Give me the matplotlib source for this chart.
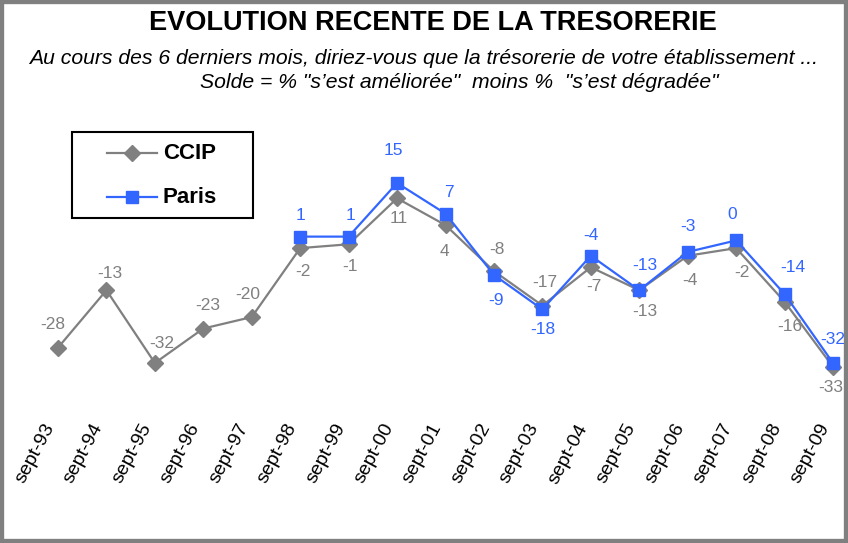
import matplotlib
matplotlib.use("Agg")
import matplotlib.pyplot as plt
from matplotlib.patches import Rectangle
from matplotlib.lines import Line2D
from matplotlib.transforms import offset_copy

plt.rcParams['font.family'] = ['Liberation Sans', 'DejaVu Sans']

categories = ['sept-93', 'sept-94', 'sept-95', 'sept-96', 'sept-97', 'sept-98', 'sept-99',
              'sept-00', 'sept-01', 'sept-02', 'sept-03', 'sept-04', 'sept-05', 'sept-06',
              'sept-07', 'sept-08', 'sept-09']
ccip = [-28, -13, -32, -23, -20, -2, -1, 11, 4, -8, -17, -7, -13, -4, -2, -16, -33]
paris_start = 5
paris = [1, 1, 15, 7, -9, -18, -4, -13, -3, 0, -14, -32]
series_names = ['CCIP', 'Paris']

# label offsets in pixels (dx, dy), dy positive = upwards
ccip_off = [(-5, 23), (3, 17), (7, 19), (4, 23), (-4, 23), (3, -23), (1, -22), (2, -20),
            (-1, -26), (3, 22), (2, 23), (3, -19), (6, -21), (2, -25), (6, -24), (5, -25), (-2, -21)]
paris_off = [(0, 21), (2, 21), (-4, 33), (3, 21), (2, -26), (0, -20), (0, 20), (6, 25),
             (0, 25), (-4, 26), (8, 27), (0, 24)]

W, H = 848, 543
fig = plt.figure(figsize=(W / 100, H / 100), dpi=100)
fig.patch.set_facecolor('white')

# axes placement in pixels
ax_l, ax_r, ax_t, ax_b = 30, 840, 130, 400
ax = fig.add_axes([ax_l / W, 1 - ax_b / H, (ax_r - ax_l) / W, (ax_b - ax_t) / H])
px_per_x = (833 - 58) / 16
ax.set_xlim(-(58 - ax_l) / px_per_x, 16 + (ax_r - 833) / px_per_x)
px_per_y = (363 - 183) / 47
ax.set_ylim(15 - (ax_b - 183) / px_per_y, 15 + (183 - ax_t) / px_per_y)

gray = '#808080'
blue = '#3366FF'
x_c = list(range(len(categories)))
x_p = list(range(paris_start, paris_start + len(paris)))

ax.plot(x_c, ccip, color=gray, lw=1.6, marker='D', ms=8.5, mec=gray, mfc=gray,
        zorder=3, clip_on=False)
ax.plot(x_p, paris, color=blue, lw=1.6, marker='s', ms=9, mec=blue, mfc=blue,
        zorder=4, clip_on=False)

for xi, v, (dx, dy) in zip(x_c, ccip, ccip_off):
    tr = offset_copy(ax.transData, fig=fig, x=dx, y=dy, units='dots')
    ax.text(xi, v, str(v), transform=tr, ha='center', va='center', color=gray, fontsize=12.5,
            clip_on=False)
for xi, v, (dx, dy) in zip(x_p, paris, paris_off):
    tr = offset_copy(ax.transData, fig=fig, x=dx, y=dy, units='dots')
    ax.text(xi, v, str(v), transform=tr, ha='center', va='center', color=blue, fontsize=12.5,
            clip_on=False)

ax.set_xticks(x_c)
ax.set_xticklabels(categories, rotation=62, ha='right', va='top', fontsize=14)
ax.tick_params(axis='x', length=0, pad=15)
ax.set_yticks([])
for s in ax.spines.values():
    s.set_visible(False)
ax.patch.set_alpha(0)

# legend (drawn in figure pixel coords)
def fx(px):
    return px / W

def fy(py):
    return 1 - py / H

fig.patches.append(Rectangle((fx(72), fy(218)), fx(253) - fx(72), fy(132) - fy(218),
                             transform=fig.transFigure, fill=False, edgecolor='black',
                             linewidth=1.5, zorder=5))
styles = [(gray, 'D', 8.5), (blue, 's', 9)]
for i, (name, (c, m, ms)) in enumerate(zip(series_names, styles)):
    yy = fy(153 + 44 * i)
    fig.lines.append(Line2D([fx(107), fx(157)], [yy, yy], transform=fig.transFigure,
                            color=c, lw=1.6, zorder=5))
    fig.lines.append(Line2D([fx(132)], [yy], transform=fig.transFigure, color=c,
                            marker=m, ms=ms, mec=c, mfc=c, lw=0, zorder=6))
    fig.text(fx(163), yy, name, ha='left', va='center', fontsize=16, fontweight='bold',
             color='black')

fig.text(433 / W, 1 - 23 / H, 'EVOLUTION RECENTE DE LA TRESORERIE', ha='center', va='center',
         fontsize=19.5, fontweight='bold')
fig.text(424 / W, 1 - 58 / H,
         "Au cours des 6 derniers mois, diriez-vous que la trésorerie de votre établissement ...",
         ha='center', va='center', fontsize=15.2, style='italic')
fig.text(459 / W, 1 - 83 / H, 'Solde = % "s\u2019est améliorée"  moins %  "s\u2019est dégradée"',
         ha='center', va='center', fontsize=15.2, style='italic')

fig.patches.append(Rectangle((0, 0), 1, 1, transform=fig.transFigure, fill=False,
                             edgecolor='#808080', linewidth=6, zorder=10))

fig.savefig('out.png', dpi=100, facecolor='white')
